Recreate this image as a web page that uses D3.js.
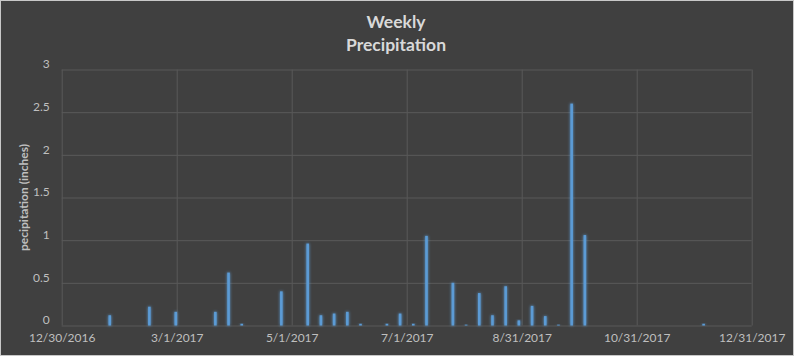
<!DOCTYPE html>
<html><head><meta charset="utf-8">
<script src="https://cdn.jsdelivr.net/npm/d3@7"></script>
<style>
html,body{margin:0;padding:0;background:#404040;}
svg{display:block;}
</style></head>
<body>
<svg id="chart" width="794" height="356"></svg>
<script>
const weekDates = ["2017-01-24","2017-02-14","2017-02-28","2017-03-21","2017-03-28","2017-04-04","2017-04-25","2017-05-09","2017-05-16","2017-05-23","2017-05-30","2017-06-06","2017-06-20","2017-06-27","2017-07-04","2017-07-11","2017-07-25","2017-08-01","2017-08-08","2017-08-15","2017-08-22","2017-08-29","2017-09-05","2017-09-12","2017-09-19","2017-09-26","2017-10-03","2017-12-05"];
const precipitation = [0.12,0.22,0.16,0.16,0.62,0.02,0.40,0.96,0.12,0.14,0.16,0.02,0.02,0.14,0.02,1.05,0.50,0.01,0.38,0.12,0.46,0.06,0.23,0.11,0.01,2.60,1.06,0.02];
const xTickLabels = ["12/30/2016","3/1/2017","5/1/2017","7/1/2017","8/31/2017","10/31/2017","12/31/2017"];
const yTicks = [0,0.5,1,1.5,2,2.5,3];
const titleLines = ["Weekly","Precipitation"];
const yTitle = "pecipitation (inches)";

const W = 794, H = 356;
const margin = {left: 61.7, right: W - 751.7, top: 69.5, bottom: H - 325.5};
const svg = d3.select("#chart");
const parse = d3.timeParse("%Y-%m-%d");
const parseTick = d3.timeParse("%m/%d/%Y");
const tickDates = xTickLabels.map(parseTick);
const fmt = d3.timeFormat("%-m/%-d/%Y");
const font = "Lato, 'Open Sans', sans-serif";

svg.append("rect").attr("x",0.5).attr("y",0.5).attr("width",W-1).attr("height",H-1)
  .attr("fill","#404040").attr("stroke","#c8c8c8").attr("stroke-width",1);

const x = d3.scaleTime().domain([tickDates[0], tickDates[tickDates.length-1]]).range([margin.left, W - margin.right]);
const y = d3.scaleLinear().domain([0,3]).range([H - margin.bottom, margin.top]);

const defs = svg.append("defs");
const f = defs.append("filter").attr("id","glow").attr("x","-300%").attr("y","-20%").attr("width","700%").attr("height","140%");
f.append("feGaussianBlur").attr("in","SourceGraphic").attr("stdDeviation",1.8).attr("result","b");
const m = f.append("feMerge");
m.append("feMergeNode").attr("in","b");
m.append("feMergeNode").attr("in","SourceGraphic");

// grid + y axis
const yAxis = d3.axisLeft(y).tickValues(yTicks).tickSize(-(W - margin.left - margin.right)).tickPadding(12)
  .tickFormat(d => d3.format("")(d));
const gy = svg.append("g").attr("transform",`translate(${margin.left},0)`).call(yAxis);
gy.select(".domain").remove();
gy.selectAll(".tick line").attr("stroke","#595959").attr("stroke-width",1);
gy.selectAll(".tick text").attr("fill","#bfbfbf").style("font-family",font).style("font-size","12px").attr("dy","-0.15em");

const xAxis = d3.axisBottom(x).tickValues(tickDates).tickSize(-(H - margin.top - margin.bottom)).tickPadding(9)
  .tickFormat(d => fmt(d));
const gx = svg.append("g").attr("transform",`translate(0,${H - margin.bottom})`).call(xAxis);
gx.select(".domain").remove();
gx.selectAll(".tick line").attr("stroke","#595959").attr("stroke-width",1);
gx.selectAll(".tick text").attr("fill","#bfbfbf").style("font-family",font).style("font-size","12px").attr("dy","0.6em");

// bars
const barW = 2.6;
svg.append("g").selectAll("rect").data(weekDates.map((d,i)=>({date:parse(d), v:precipitation[i]})))
  .join("rect")
  .attr("x", d => x(d3.timeHour.offset(d.date,12)) - barW/2)
  .attr("y", d => y(d.v))
  .attr("width", barW)
  .attr("height", d => Math.max(0.8, y(0) - y(d.v)))
  .attr("fill","#5b9bd5")
  .attr("filter","url(#glow)");

// titles
svg.append("g").selectAll("text").data(titleLines).join("text")
  .attr("x", 396).attr("y",(d,i)=> 28 + i*23)
  .attr("text-anchor","middle")
  .attr("fill","#d9d9d9")
  .style("font-family",font).style("font-size","17.5px").style("font-weight","bold")
  .text(d=>d);

svg.append("text")
  .attr("transform",`translate(28,${(y(0)+y(3))/2}) rotate(-90)`)
  .attr("text-anchor","middle")
  .attr("fill","#bfbfbf")
  .style("font-family",font).style("font-size","12px").style("font-weight","bold")
  .text(yTitle);
</script>
</body></html>
